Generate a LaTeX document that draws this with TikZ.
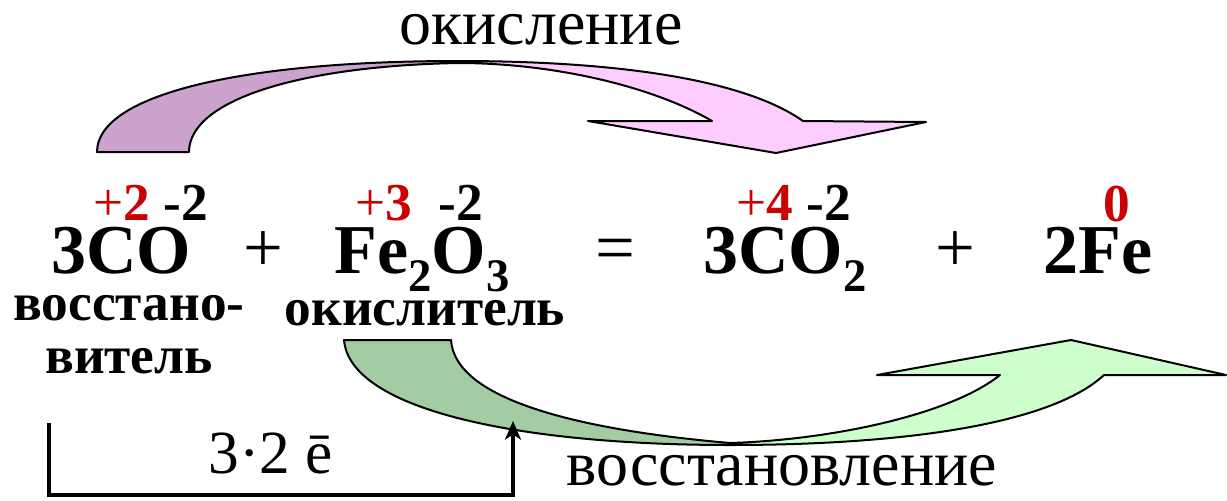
\documentclass[tikz,border=0pt]{standalone}
\usepackage{fontspec}
\usetikzlibrary{arrows.meta}
\setmainfont{Liberation Serif}
\definecolor{redq}{HTML}{CC0000}
\definecolor{pinkd}{HTML}{CCA3CC}
\definecolor{pinkl}{HTML}{FFCCFF}
\definecolor{greend}{HTML}{A3CCA3}
\definecolor{greenl}{HTML}{CCFFCC}
\newcommand{\fs}[1]{\fontsize{#1}{#1}\selectfont}
\newcommand{\sbs}[1]{\raisebox{-13.5pt}{\fs{35}#1}}
\tikzset{
 x=0.75pt,y=-0.75pt,
 formula/.style={inner sep=0,anchor=base,font=\fs{52.5}\bfseries},
 oper/.style={inner sep=0,anchor=base,font=\fs{53}},
 charge/.style={inner sep=0,anchor=base,font=\fs{40}\bfseries},
 role/.style={inner sep=0,anchor=base,font=\fs{40}\bfseries},
 caption/.style={inner sep=0,anchor=base,font=\fs{48}},
 electrons/.style={inner sep=0,anchor=base,font=\fs{46}},
 outl/.style={draw=black,line width=1.5pt,line join=round},
 bracket/.style={line width=3pt},
}
\begin{document}
\begin{tikzpicture}
\useasboundingbox (0,0) rectangle (1227,500);
% top arrow
\path[fill=pinkl] (458,61) .. controls (620,61) and (745,80) .. (803,121) -- (926,122) -- (776,153) -- (588,121) -- (712,121) .. controls (650,85) and (550,63) .. (458,63) -- cycle;
\path[fill=pinkd] (97,152) .. controls (97,95) and (240,61) .. (458,61) -- (458,63) .. controls (300,66) and (189,100) .. (189,152) -- cycle;
\draw[outl] (458,61) .. controls (620,61) and (745,80) .. (803,121) -- (926,122) -- (776,153) -- (588,121) -- (712,121) .. controls (650,85) and (550,63) .. (458,63);
\draw[outl] (458,61) .. controls (240,61) and (97,95) .. (97,152) -- (189,152) .. controls (189,100) and (300,66) .. (458,63);
% bottom arrow
\path[fill=greenl] (730,445) .. controls (900,445) and (1050,425) .. (1104,375) -- (1226,375) -- (1071,340) -- (877,375) -- (1000,375) .. controls (950,415) and (830,440) .. (730,443) -- cycle;
\path[fill=greend] (344,340) .. controls (350,410) and (520,445) .. (730,445) -- (730,443) .. controls (580,430) and (455,400) .. (451,340) -- cycle;
\draw[outl] (730,445) .. controls (900,445) and (1050,425) .. (1104,375) -- (1226,375) -- (1071,340) -- (877,375) -- (1000,375) .. controls (950,415) and (830,440) .. (730,443);
\draw[outl] (730,445) .. controls (520,445) and (350,410) .. (344,340) -- (451,340) .. controls (455,400) and (580,430) .. (730,443);
% bracket
\coordinate (bs) at (49,423);
\coordinate (bl) at (49,495);
\coordinate (br) at (513,495);
\coordinate (be) at (513,421);
\draw[bracket,-{Stealth[length=14pt,width=12pt,inset=4pt]}] (bs) -- (bl) -- (br) -- (be);
% texts
\node[caption] (ok) at (541,44) {окисление};
\node[caption] (vo) at (782,485) {восстановление};
\node[electrons] (el) at (271,473) {3·2 ē};
\node[formula] (f1) at (121,273) {3CO};
\node[oper] (p1) at (263,271) {+};
\node[formula] (f2) at (422,273) {Fe\sbs{2}O\sbs{3}};
\node[oper] (eq) at (615,271) {=};
\node[formula] (f3) at (785,273) {3CO\sbs{2}};
\node[oper] (p2) at (955,271) {+};
\node[formula] (f4) at (1098,273) {2Fe};
\node[charge] (c1) at (122,220) {\textcolor{redq}{\mdseries +}\textcolor{redq}{2}};
\node[charge] (c2) at (186,220) {-2};
\node[charge] (c3) at (384,220) {\textcolor{redq}{\mdseries +}\textcolor{redq}{3}};
\node[charge] (c4) at (461,220) {-2};
\node[charge] (c5) at (765,220) {\textcolor{redq}{\mdseries +}\textcolor{redq}{4}};
\node[charge] (c6) at (829,220) {-2};
\node[charge,text=redq] (c7) at (1117,221) {0};
\node[role] (r1) at (129,320) {восстано-};
\node[role] (r2) at (129,373) {витель};
\node[role] (r3) at (425,325) {окислитель};
\end{tikzpicture}
\end{document}
